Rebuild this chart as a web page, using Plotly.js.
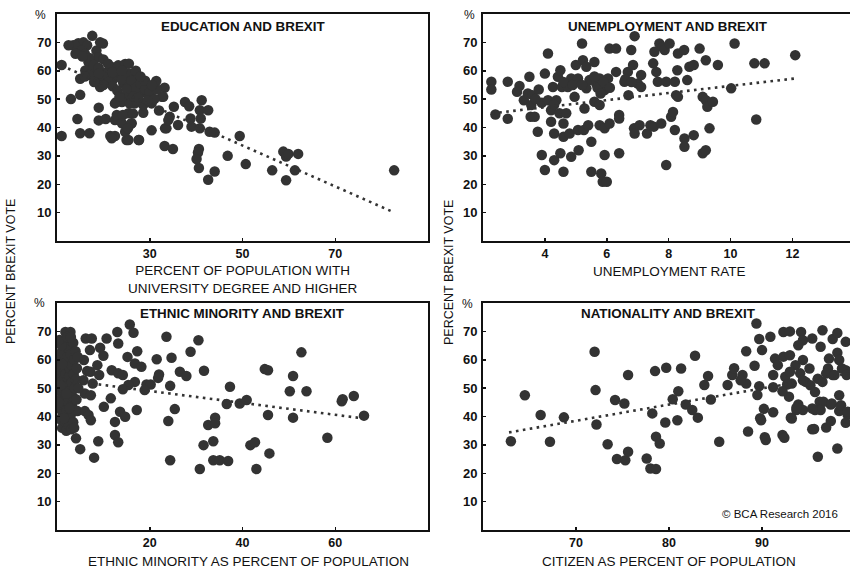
<!DOCTYPE html>
<html><head><meta charset="utf-8">
<script src="https://cdn.plot.ly/plotly-3.0.1.min.js"></script>
<style>html,body{margin:0;padding:0;background:#fff;overflow:hidden}#chart{width:850px;height:569px}</style>
</head><body><div id="chart"></div>
<script>
// ---------- DATA ----------
// Panel 1: Education (% with university degree) vs Brexit vote
const eduX = [11,11,13,14.4,15,15,17,19,19,20.5,21.5,22.5,22.5,22.8,25,27.7,28.6,30.4,31.4,32,33.2,32.9,33.2,35,35.2,33.6,34.3,36.1,37.6,38.5,38.8,39,40.8,41.2,40.8,42.6,41,40.6,40.4,40.1,40.6,42.9,44,42.6,44,46.8,49.4,50.7,56.4,58.8,59.4,59.9,62,61.3,59.4,82.7,
 13.5,14.6,15.7,16.5,17.6,19.9,18.5,13.9,15.3,19.3,18.9,16.8,16.1,17.8,15,18.6,20.7,21.8,23.2,24.7,22.2,19.3,24.3,27.2,26.1,25,28.3,29.7,32.6,30.4,28.6,26.8,24,22.5,22.9,25.4,24,26.1,24.7,25.4,27.6,21.8,33.3,34,24.2,26,25.3,26.4,25.7,27.1,
 16,17,18,17,19,20,21,22,23,24,25.5,26,23,27,28,29,26.5,27.5,30,31,29,27,25.5,20,21,19,22,14,16,20,23.5,18,12.5,15.5,24,25,29.5,31.5,28,30.5];
const eduY = [62,37,50,43,51.5,38,38,47,42.5,43,37,37,42.6,49,35.6,35.6,45.2,39,56.4,46,54,50.8,33.5,32.4,47.3,39.7,43.8,40.9,49,47.5,43.2,40.3,39.7,49.6,46.1,46.1,43.2,32.4,31.2,28.9,25.7,38.5,38.2,21.6,24.5,30,37,27.1,24.9,31.5,29.8,30.7,30.7,24.9,21.4,24.9,
 69,69.7,70,69,72.3,69.6,67.1,68.8,67.1,70,64.8,63,60.1,60.7,57.2,57.2,59.5,61.3,61.9,62.4,57.2,54.3,55.5,57.8,54.3,51.4,52.5,51.4,50.8,48.5,47.9,48.5,49,48.5,44.4,45,41.5,41.5,38.5,35.6,35.6,36.2,39.7,42.6,44.4,41.4,39.7,44.9,48.4,49.6,
 66,64.5,62,58.5,61,58,56,54.5,58.5,57,59,56.5,53,54,55.5,53.5,51,50.5,52.5,50,56.5,60,62.5,64,62.5,59,59.5,66,58,55,51,56,69,65,60,53.5,49.5,53.5,58,55];

// Panel 2: Unemployment rate vs Brexit vote
const unX = [2.27,2.27,2.4,2.8,2.8,3.18,3.1,3.32,3.5,3.45,3.6,3.56,3.54,3.67,3.8,3.77,3.9,4.0,3.9,4.0,4.1,4.1,4.2,4.26,4.2,4.3,4.3,4.37,4.42,4.47,4.5,4.5,4.55,4.6,4.6,4.6,4.69,4.74,4.8,4.85,4.85,4.96,5.0,5.07,5.07,5.09,5.2,5.23,5.26,5.28,5.34,5.34,5.4,5.44,5.5,5.5,5.6,5.6,5.66,5.77,5.77,5.77,5.82,5.87,5.93,5.93,6.0,5.93,6.04,6.09,6.09,6.3,6.3,6.4,6.4,6.4,6.57,6.68,6.7,6.79,6.85,6.9,6.88,6.9,7.0,7.06,7.11,7.11,7.3,7.41,7.52,7.54,7.5,7.6,7.65,7.7,7.76,7.8,7.92,7.92,7.87,8.03,8.08,8.14,8.2,8.2,8.24,8.28,8.3,8.3,8.5,8.51,8.51,8.6,8.67,8.81,8.81,9.0,9.1,9.1,9.2,9.2,9.25,9.2,9.32,9.43,9.59,10.02,10.13,10.77,11.1,10.83,12.09,
 5.7,5.8,5.6,5.9,6.1,4.6,4.9,6.6,6.8,5.2,4.3,3.7];
const unY = [56.1,53.4,44.6,56.1,43.1,54.6,52.6,49.6,57.9,52,51.4,47.9,43.8,43.8,53.4,38.5,48.7,59,30.3,25,66.1,49.6,46.1,54.3,42,28.5,37.9,49.6,57.9,45,30.9,60.2,54.3,41.4,36.7,24.4,45,54.3,37.9,57.3,29.7,50.8,62,57.3,39.1,32,69.6,63.7,39.1,46.7,61.4,53.8,40.8,56.7,35,24.4,63.1,49.1,55.5,57.3,47.9,40.8,23.8,20.9,39.7,30.3,20.9,53.2,57.3,41.4,67.8,67.8,59.6,30.9,44.4,43.2,56.1,59.6,51.4,67.3,62,72.2,39.7,37.9,55.5,40.8,58.5,54.3,37.9,40.8,40.3,66.7,62.6,59.6,56.1,69.6,41.4,68.4,56.1,26.8,67.3,69.6,43.8,45.5,56.1,39.1,51.4,60.2,50.8,66.1,67.3,36.1,33.2,56.7,61.4,62,37.3,67.8,50.8,30.9,63.7,49.6,47.3,32,39.7,49.1,62,53.8,69.6,62.6,62.6,42.8,65.5,
 54,52,58,56,54,56,55,57,56,55,48,50];

// Panel 3: Ethnic minority share vs Brexit vote
const ethX = [15.7,13,13.2,16.5,10.7,9.3,10,6.2,7.5,7.1,5.8,6.5,8.7,9.1,11.8,13.2,14.2,15.2,16.8,17.3,18.2,16.8,15.4,14.2,11.6,10.1,13.6,14.7,17.2,12.5,12.5,13.2,8.9,8,5,4.1,4.4,6,6.8,7.3,6,7.3,7.7,19.3,20.2,18.9,21.5,22,21.8,23.6,24.7,24.4,24,24.4,25.4,26.5,27.9,28.8,30.5,31.7,31.6,30.8,32.6,34.1,34.1,33.7,33.7,35.1,36.9,36.6,37.3,39.4,40.9,41.7,42.7,43,44.8,45.5,45.5,45.8,50.2,50.9,50.9,52.7,53.8,58.3,61.4,61.6,64,66.2,5.7,7.2,
 0.3,0.4,0.5,0.6,0.5,0.7,0.8,0.9,1.0,1.0,1.1,1.2,1.3,1.3,1.4,1.5,1.5,1.6,1.7,1.8,1.8,1.9,2.0,2.0,2.1,2.2,2.3,2.4,2.4,2.5,2.6,2.6,2.7,2.8,2.9,2.9,3.0,3.1,3.2,3.2,3.3,3.4,3.5,3.5,3.6,3.7,3.8,3.9,4.0,4.1,4.2,4.3,4.5,1.0,0.6,2.2,0.4,1.5,3.0,4.6,0.8,2.0,3.7,1.2,2.7];
const ethY = [72.4,69.8,65.7,69.5,67.5,64.2,61.4,67.5,67.5,63.4,59.9,56,58.1,54.6,56.3,55.2,54.6,61,58.7,63,57.5,52.2,51.1,49.6,46.4,43.4,41.7,39.9,42.3,38.1,33.5,30.9,31.3,25.5,28.5,32.3,41.9,41.9,40.5,38.7,48.1,47.5,51.6,51.3,51.3,49.3,60.2,54.8,53.6,68.1,60.7,50.8,38.4,24.6,42.6,55.8,54.3,62.8,66.9,56.1,29.9,21.5,37,39.6,37.6,31.3,24.6,24.6,24.3,44.4,50.5,44.6,45.8,29.9,30.9,21.5,56.7,56.3,40.5,27,48.9,54.3,39.6,62.6,48.9,32.5,45.4,46.1,47.2,40.3,52.8,55.8,
 54,43,49,58,62,39,46,52,56,60,36,41,44,50,53,57,62,65,38,69.8,47,55,59,35,42,51,61,64,45,67,37,54,57,49,69.8,40,62,35.5,44,52,58,47,66,38,55,60,50,42,63,53,46,57,61,65,67,68,45,39.5,68,50,51,48,36,58.5,43];

// Panel 4: Citizens share vs Brexit vote
const natX = [63,64.5,66.2,67.2,68.7,72,72.1,72.2,73.4,74.2,74.4,75.2,75.3,75.6,75.6,77.6,78,78.6,78.2,78.5,78.6,79,79.6,79.7,80.4,80.9,81,81.3,81.8,82.5,82.8,83.1,83.8,84.2,84.5,85.4,86.3,86.8,
 89.4,89.7,90.9,92.3,93,94.2,94.4,93.9,95.4,96.5,96.3,97.6,98.1,99,88.3,90,89.2,87,87.9,88.3,87.7,89.7,89.5,90.2,91.2,89.8,88.5,90.3,92.2,91.4,92.3,93,91.2,91.7,92.5,93.6,94.1,93.2,92.7,94.4,95.1,95.2,96,95.7,96.5,97.2,98.1,98.3,99,97.1,97.6,96.2,95.7,97.4,98.3,93.9,93.7,94.4,92.9,93.1,95.4,96.9,97.4,98.3,99.2,99,96,98.1,91.2,93,
 89.9,90.4,92.4,92.2,93.2,93.7,94.7,95.6,96.6,96.9,97.5,97.8,98.6,98.5,99.1,99.2,96.3,95.4,94.4];
const natY = [31.3,47.5,40.5,31.1,39.7,62.8,49.3,37.2,30.2,45.8,25,44.6,24.6,27.6,54.6,25.2,21.7,21.5,41.1,56,32.9,30.5,37.9,57.2,46.1,38.7,48.9,56.9,44.2,42.3,61.4,39.6,51.1,54.3,46,31.1,51.1,54.6,
 72.8,67.3,68.1,69.8,70,69.8,66.9,65.1,67.5,70.4,64.6,67.3,69.4,66.3,63,63.4,57.9,57,54.6,51.6,52.8,50.7,47.6,42.7,41.5,39.4,34.7,32.7,33.5,60.4,61.1,61.6,54.6,58.1,54,58.1,55.2,51.6,51.3,59.9,56.9,51,53.3,48.6,52.2,60.4,62.5,59.9,56.3,56.9,54.6,45.2,42.3,44.2,47.5,44.2,42.3,42.3,47,39.6,35.5,36.1,38.4,41.9,40.7,37.8,25.8,28.7,50.3,55.8,
 38.7,31.7,32.5,48.9,39.3,43.1,52.2,35.6,45.2,55.2,44.6,54.6,56.9,44,54.6,41.7,42.3,42.8,52.8];

// Fitted trend lines, end points
const trendEduX = [11, 82.5],  trendEduY = [61.8, 10.2];
const trendUnX  = [2.3, 12.1], trendUnY  = [45, 57.3];
const trendEthX = [0, 66.2],   trendEthY = [53.2, 39.3];
const trendNatX = [62.8, 99.5],trendNatY = [34.4, 55.3];

// Tick values
const yTicks   = [10, 20, 30, 40, 50, 60, 70];
const eduTicks = [30, 50, 70];
const unTicks  = [4, 6, 8, 10, 12];
const ethTicks = [20, 40, 60];
const natTicks = [70, 80, 90];

// Texts
const panelTitles = ['EDUCATION AND BREXIT', 'UNEMPLOYMENT AND BREXIT', 'ETHNIC MINORITY AND BREXIT', 'NATIONALITY AND BREXIT'];
const xTitles = ['PERCENT OF POPULATION WITH<br>UNIVERSITY DEGREE AND HIGHER', 'UNEMPLOYMENT RATE', 'ETHNIC MINORITY AS PERCENT OF POPULATION', 'CITIZEN AS PERCENT OF POPULATION'];
const yTitle = 'PERCENT BREXIT VOTE';
const unitLabel = '%';
const sourceLabel = '© BCA Research 2016';

// ---------- LAYOUT ----------
const W = 850, H = 569;
const px = x => x / W, py = y => 1 - y / H;
const DOT = '#333333', INK = '#111111';
const FONT = 'Liberation Sans, Arial, Helvetica, sans-serif';

function pts(x, y, xa, ya) {
  return {x, y, xaxis: xa, yaxis: ya, type: 'scatter', mode: 'markers', hoverinfo: 'skip',
    marker: {size: 10.5, color: DOT, line: {width: 0}}, showlegend: false};
}
function trend(x, y, xa, ya) {
  return {x, y, xaxis: xa, yaxis: ya, type: 'scatter', mode: 'lines', hoverinfo: 'skip',
    line: {color: DOT, width: 2.6, dash: '2.6px,4.4px'}, showlegend: false};
}
const data = [
  pts(eduX, eduY, 'x', 'y'), trend(trendEduX, trendEduY, 'x', 'y'),
  pts(unX, unY, 'x2', 'y2'), trend(trendUnX, trendUnY, 'x2', 'y2'),
  pts(ethX, ethY, 'x3', 'y3'), trend(trendEthX, trendEthY, 'x3', 'y3'),
  pts(natX, natY, 'x4', 'y4'), trend(trendNatX, trendNatY, 'x4', 'y4')
];

const xtickfont = {family: FONT, size: 12.5, color: INK, weight: 'bold'};
const ytickfont = {family: FONT, size: 13, color: INK, weight: 'bold'};
function xax(dom, range, ticks, anchor) {
  return {domain: dom, range, anchor, tickmode: 'array', tickvals: ticks, ticktext: ticks.map(String),
    showgrid: false, zeroline: false, showline: true, linecolor: INK, linewidth: 2, mirror: true,
    ticks: 'inside', ticklen: 3, tickwidth: 1.5, tickcolor: INK, tickfont: xtickfont, ticklabelstandoff: 7.5, fixedrange: true};
}
function yax(dom, anchor, mirror) {
  return {domain: dom, range: [0, 80], anchor, tickmode: 'array', tickvals: yTicks, ticktext: yTicks.map(String),
    showgrid: false, zeroline: false, showline: true, linecolor: INK, linewidth: 2, mirror,
    ticks: 'inside', ticklen: 3, tickwidth: 1.5, tickcolor: INK, tickfont: ytickfont, ticklabelstandoff: 1, fixedrange: true};
}
const LX = [px(57), px(428)], RX = [px(483), 1];
const TY = [py(241), py(14)], BY = [py(530), py(303)];

function ann(text, x, y, size, opts) {
  return Object.assign({text, xref: 'paper', yref: 'paper', x: px(x), y: py(y), showarrow: false,
    xanchor: 'center', yanchor: 'middle', font: {family: FONT, size, color: INK}}, opts || {});
}
const bold = s => ({font: {family: FONT, size: s, color: INK, weight: 'bold'}});
const annotations = [
  ann(panelTitles[0], 242.5, 26, 13.4, bold(13.4)),
  ann(panelTitles[1], 668, 26, 13.4, bold(13.4)),
  ann(panelTitles[2], 242, 313, 13.4, bold(13.4)),
  ann(panelTitles[3], 668, 313, 13.4, bold(13.4)),
  ann(xTitles[0], 242.5, 279, 13.5),
  ann(xTitles[1], 669, 271, 13.5),
  ann(xTitles[2], 248, 561.5, 13.5),
  ann(xTitles[3], 669, 561.5, 13.5),
  ann(yTitle, 11, 272, 12.5, {textangle: -90}),
  ann(yTitle, 449, 272, 12.5, {textangle: -90}),
  ann(unitLabel, 40, 15, 12),
  ann(unitLabel, 469, 15, 12),
  ann(unitLabel, 39, 303, 12),
  ann(unitLabel, 468, 304, 12),
  ann(sourceLabel, 780, 514, 11.5)
];

const layout = {
  width: W, height: H, margin: {l: 0, r: 0, t: 0, b: 0},
  paper_bgcolor: '#fff', plot_bgcolor: '#fff', showlegend: false,
  font: {family: FONT, color: INK},
  xaxis: xax(LX, [10, 90], eduTicks, 'y'),
  yaxis: yax(TY, 'x', true),
  xaxis2: xax(RX, [2, 13.86], unTicks, 'y2'),
  yaxis2: yax(TY, 'x2', false),
  xaxis3: xax(LX, [0, 80], ethTicks, 'y3'),
  yaxis3: yax(BY, 'x3', true),
  xaxis4: xax(RX, [60, 99.46], natTicks, 'y4'),
  yaxis4: yax(BY, 'x4', false),
  annotations
};
Plotly.newPlot('chart', data, layout, {displayModeBar: false, staticPlot: true});
</script></body></html>
